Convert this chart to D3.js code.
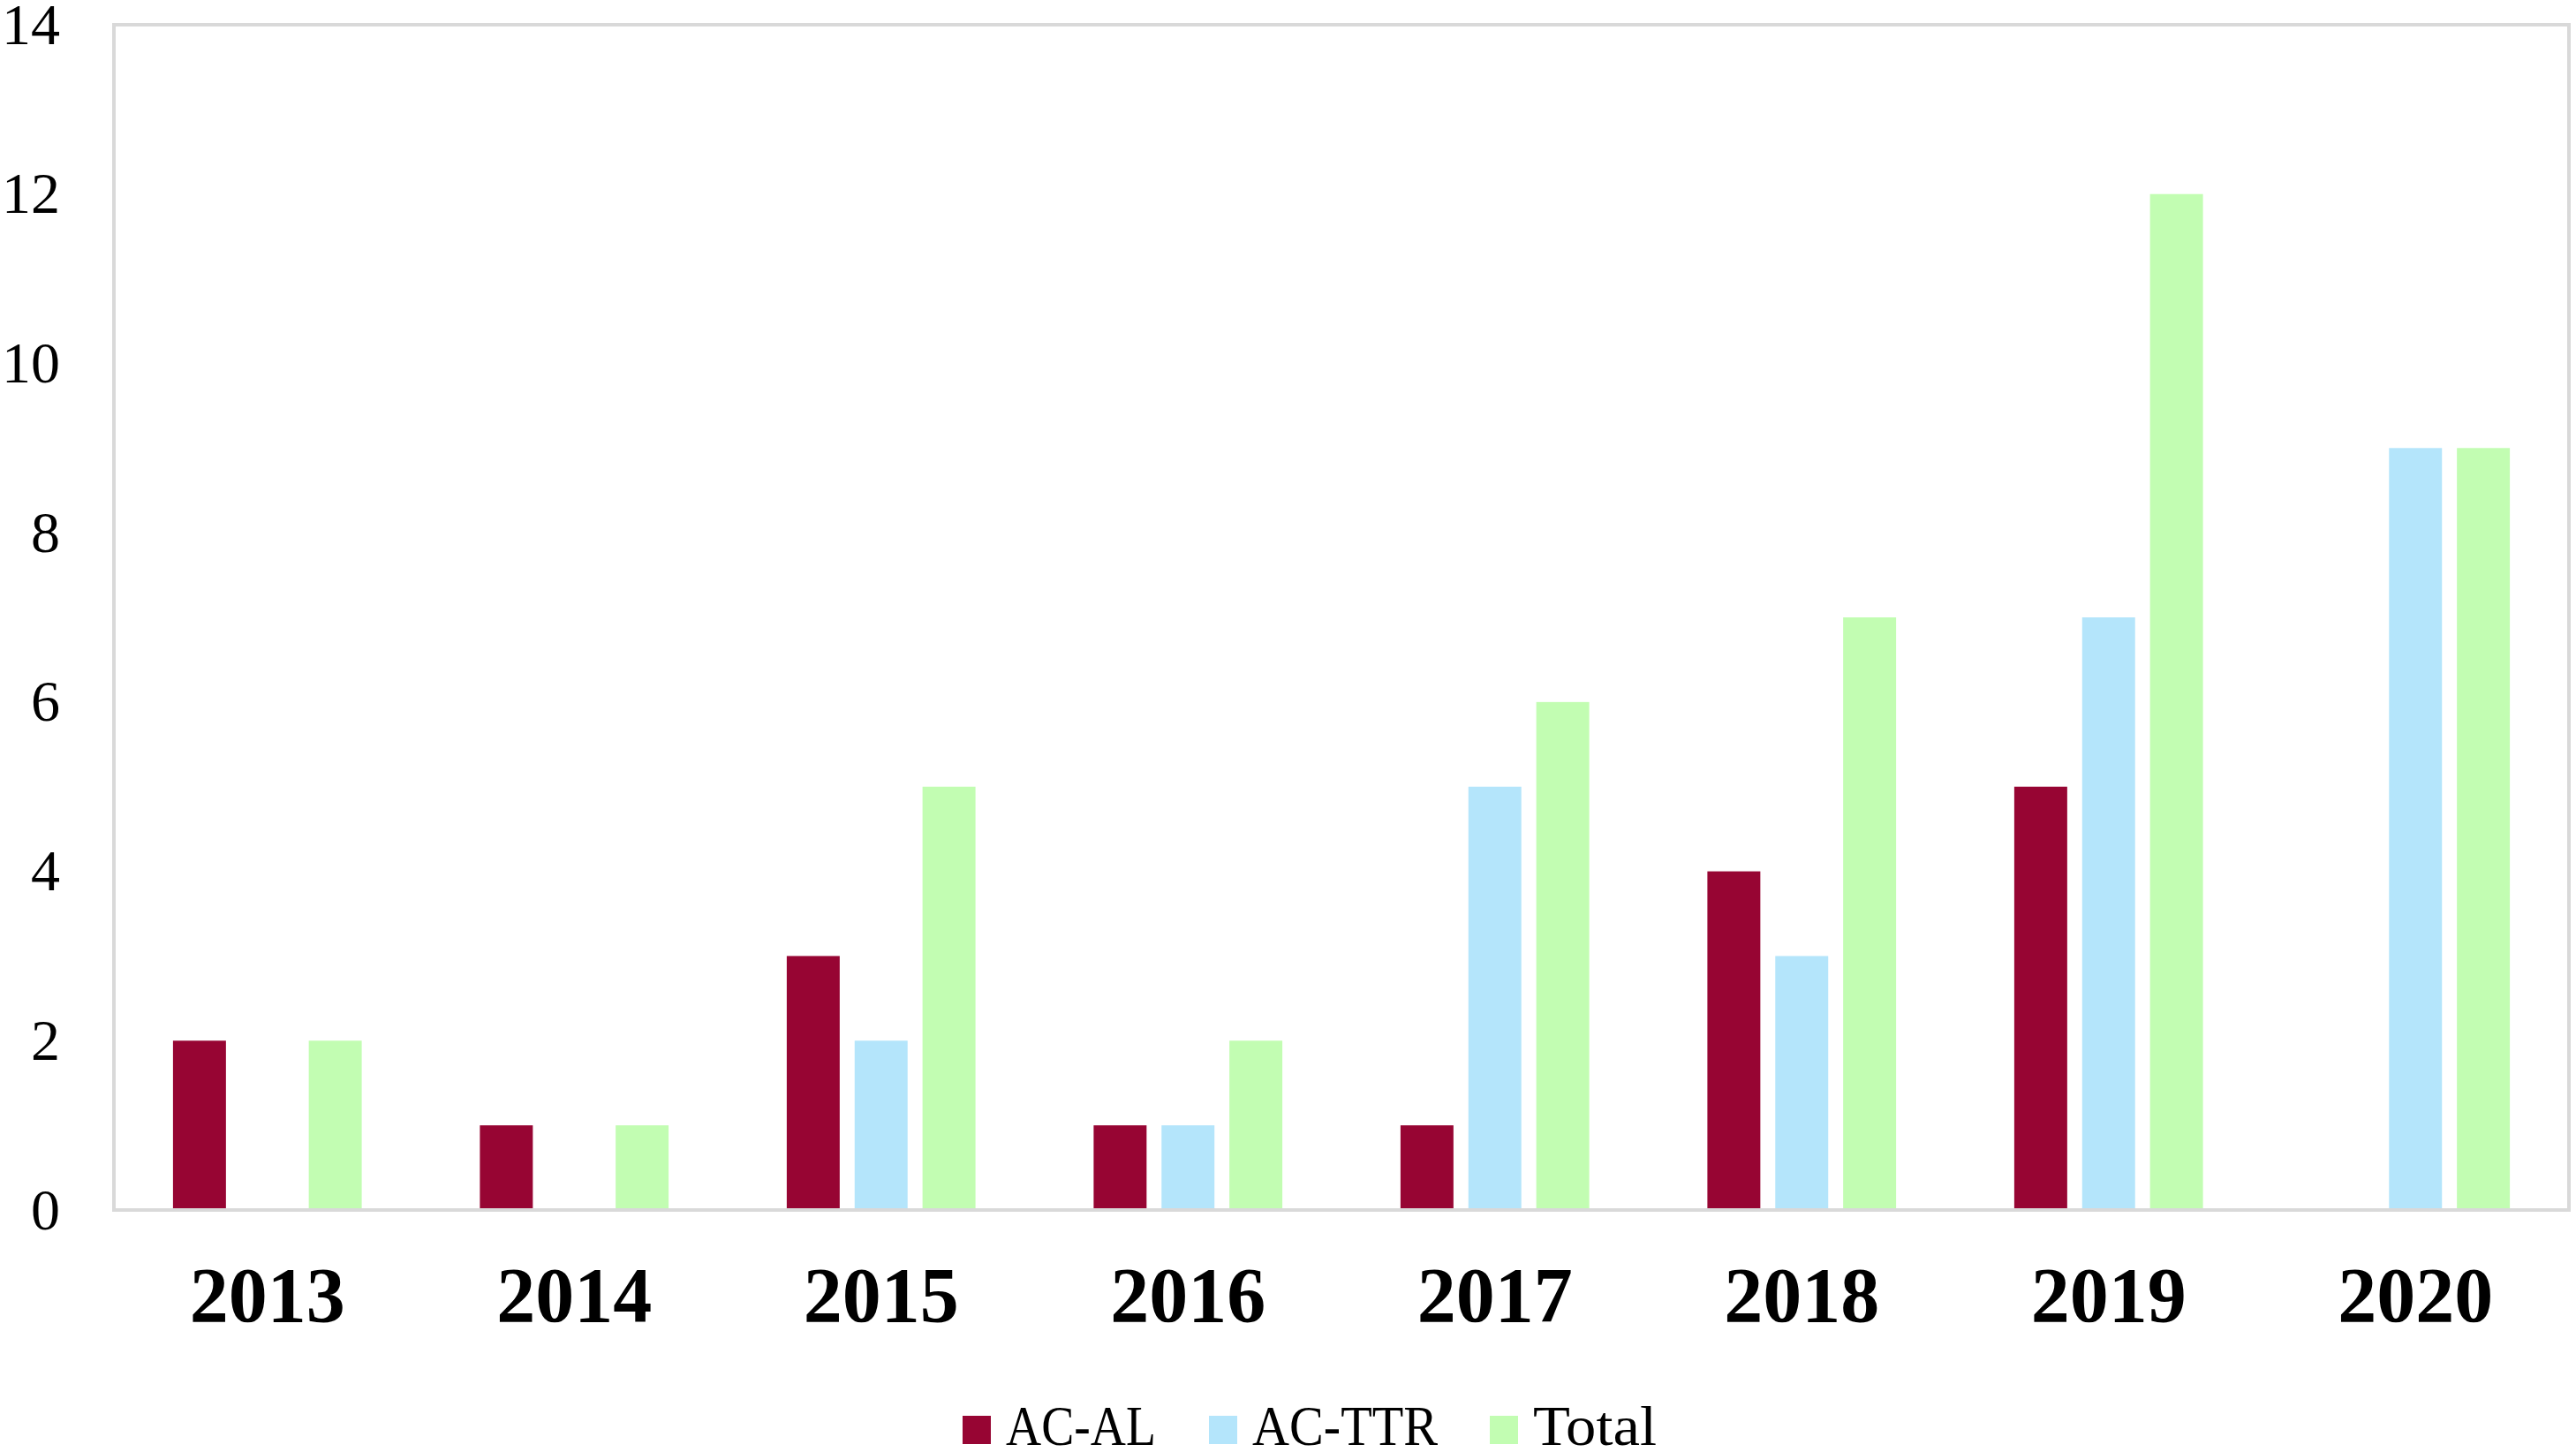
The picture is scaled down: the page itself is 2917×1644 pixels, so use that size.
<!DOCTYPE html>
<html><head><meta charset="utf-8">
<script src="https://cdn.jsdelivr.net/npm/d3@7"></script>
<style>html,body{margin:0;padding:0;background:#fff;}svg{display:block;}</style>
</head><body>
<script>
const categories = ["2013","2014","2015","2016","2017","2018","2019","2020"];
const seriesNames = ["AC-AL","AC-TTR","Total"];
const acAL  = [2,1,3,1,1,4,5,0];
const acTTR = [0,0,2,1,5,3,7,9];
const total = [2,1,5,2,6,7,12,9];
const yTicks = [0,2,4,6,8,10,12,14];
const colors = ["#970533","#B4E5FB","#C2FDB2"];

const W = 2917, H = 1644;
const m = {left:129, right:W-2909, top:28, bottom:H-1370};
const svg = d3.select("body").append("svg").attr("width",W).attr("height",H);
const font = "'Liberation Serif', 'DejaVu Serif', serif";

const data = categories.map((c,i)=>({cat:c, vals:[acAL[i],acTTR[i],total[i]]}));

const x0 = d3.scaleBand().domain(categories).range([m.left, W-m.right]).paddingInner(0.385).paddingOuter(0.1925);
const x1 = d3.scaleBand().domain(seriesNames).range([0, x0.bandwidth()]).paddingInner(0.22).paddingOuter(0);
const y = d3.scaleLinear().domain([0,14]).range([H-m.bottom, m.top]);

// bars
const g = svg.append("g");
g.selectAll("g.grp").data(data).join("g").attr("class","grp")
 .attr("transform", d=>`translate(${x0(d.cat)},0)`)
 .selectAll("rect").data(d=>d.vals.map((v,j)=>({s:seriesNames[j], v, j})).filter(e=>e.v>0))
 .join("rect")
 .attr("x", e=>x1(e.s)).attr("width", x1.bandwidth())
 .attr("y", e=>y(e.v)).attr("height", e=>y(0)-y(e.v))
 .attr("fill", e=>colors[e.j]);

// frame
svg.append("rect").attr("x", m.left).attr("y", m.top)
 .attr("width", W-m.right-m.left).attr("height", H-m.bottom-m.top)
 .attr("fill","none").attr("stroke","#d9d9d9").attr("stroke-width",4);

// y axis
const ya = svg.append("g").attr("transform",`translate(${m.left},0)`)
 .call(d3.axisLeft(y).tickValues(yTicks).tickSize(0).tickPadding(61));
ya.select(".domain").remove();
ya.selectAll("text").attr("font-family",font).attr("font-size",66).attr("fill","#000");

// x axis
const xa = svg.append("g").attr("transform",`translate(0,${H-m.bottom})`)
 .call(d3.axisBottom(x0).tickSize(0).tickPadding(64));
xa.select(".domain").remove();
xa.selectAll("text").attr("font-family",font).attr("font-size",88).attr("font-weight","bold").attr("fill","#000").attr("dy","0.71em");

// legend
const legX = [1090, 1369, 1687];
const legLen = [170, 210, 140];
const leg = svg.append("g");
seriesNames.forEach((s,i)=>{
  leg.append("rect").attr("x",legX[i]).attr("y",1603).attr("width",32).attr("height",32).attr("fill",colors[i]);
  leg.append("text").attr("x",legX[i]+49).attr("y",1636).text(s)
   .attr("textLength",legLen[i]).attr("lengthAdjust","spacingAndGlyphs")
   .attr("font-family",font).attr("font-size",64).attr("fill","#000");
});
</script>
</body></html>
